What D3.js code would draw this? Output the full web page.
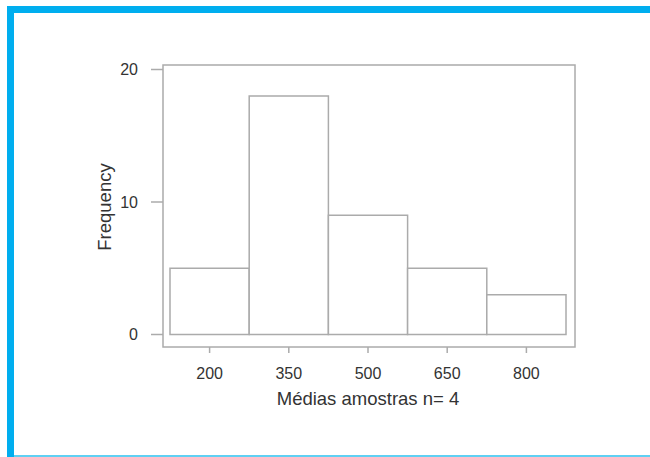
<!DOCTYPE html>
<html>
<head>
<meta charset="utf-8">
<script src="https://cdn.jsdelivr.net/npm/d3@7"></script>
<style>
  body { margin: 0; background: #fff; }
  svg { display: block; font-family: "Liberation Sans", Arial, sans-serif; }
</style>
</head>
<body>
<svg id="chart" width="650" height="457"></svg>
<script>
// histogram bins (bin edges) and counts
var binStarts = [125, 275, 425, 575, 725];
var binWidth = 150;
var counts = [5, 18, 9, 5, 3];
var xTicks = [200, 350, 500, 650, 800];
var yTicks = [0, 10, 20];
var xLabel = "Médias amostras n= 4";
var yLabel = "Frequency";

var svg = d3.select("#chart");
var lineCol = "#ababab";
var textCol = "#333";

// blue page frame
svg.append("rect").attr("x", 7).attr("y", 6).attr("width", 643).attr("height", 7).attr("fill", "#00aeef");
svg.append("rect").attr("x", 7).attr("y", 6).attr("width", 7).attr("height", 451).attr("fill", "#00aeef");
svg.append("rect").attr("x", 14).attr("y", 455).attr("width", 636).attr("height", 2).attr("fill", "#5fd0f3");

var x = d3.scaleLinear().domain([125, 875]).range([170, 566]);
var y = d3.scaleLinear().domain([0, 20]).range([334.5, 69.5]);

// plot frame
var fx0 = x.range()[0] - 7, fx1 = x.range()[1] + 9;
var fy0 = y(20) - 4.5, fy1 = y(0) + 12.5;
svg.append("rect")
    .attr("x", fx0).attr("y", fy0)
    .attr("width", fx1 - fx0).attr("height", fy1 - fy0)
    .attr("fill", "none").attr("stroke", lineCol).attr("stroke-width", 1.5);

// bars
svg.selectAll("rect.bar")
    .data(counts)
    .enter().append("rect")
    .attr("class", "bar")
    .attr("x", function(d, i) { return x(binStarts[i]); })
    .attr("y", function(d) { return y(d); })
    .attr("width", function(d, i) { return x(binStarts[i] + binWidth) - x(binStarts[i]); })
    .attr("height", function(d) { return y(0) - y(d); })
    .attr("fill", "#fff").attr("stroke", lineCol).attr("stroke-width", 1.5);

// y axis ticks outside the frame
var yAxis = svg.append("g");
yAxis.selectAll("line").data(yTicks).enter().append("line")
    .attr("x1", fx0 - 12).attr("x2", fx0)
    .attr("y1", function(d) { return y(d); }).attr("y2", function(d) { return y(d); })
    .attr("stroke", lineCol).attr("stroke-width", 1.5);
yAxis.selectAll("text").data(yTicks).enter().append("text")
    .attr("x", fx0 - 25).attr("y", function(d) { return y(d) + 5.5; })
    .attr("text-anchor", "end").attr("font-size", 16).attr("fill", textCol)
    .text(function(d) { return d; });

// x axis ticks below the frame
var xAxis = svg.append("g");
xAxis.selectAll("line").data(xTicks).enter().append("line")
    .attr("x1", function(d) { return x(d); }).attr("x2", function(d) { return x(d); })
    .attr("y1", fy1).attr("y2", fy1 + 6)
    .attr("stroke", lineCol).attr("stroke-width", 1.5);
xAxis.selectAll("text").data(xTicks).enter().append("text")
    .attr("x", function(d) { return x(d); }).attr("y", fy1 + 32)
    .attr("text-anchor", "middle").attr("font-size", 16).attr("fill", textCol)
    .text(function(d) { return d; });

// axis titles
svg.append("text")
    .attr("x", (fx0 + fx1) / 2 - 1).attr("y", fy1 + 58)
    .attr("text-anchor", "middle").attr("font-size", 18.5).attr("fill", textCol)
    .text(xLabel);
svg.append("text")
    .attr("transform", "translate(111," + ((y(0) + y(20)) / 2 + 5) + ") rotate(-90)")
    .attr("text-anchor", "middle").attr("font-size", 18.5).attr("fill", textCol)
    .text(yLabel);
</script>
</body>
</html>
